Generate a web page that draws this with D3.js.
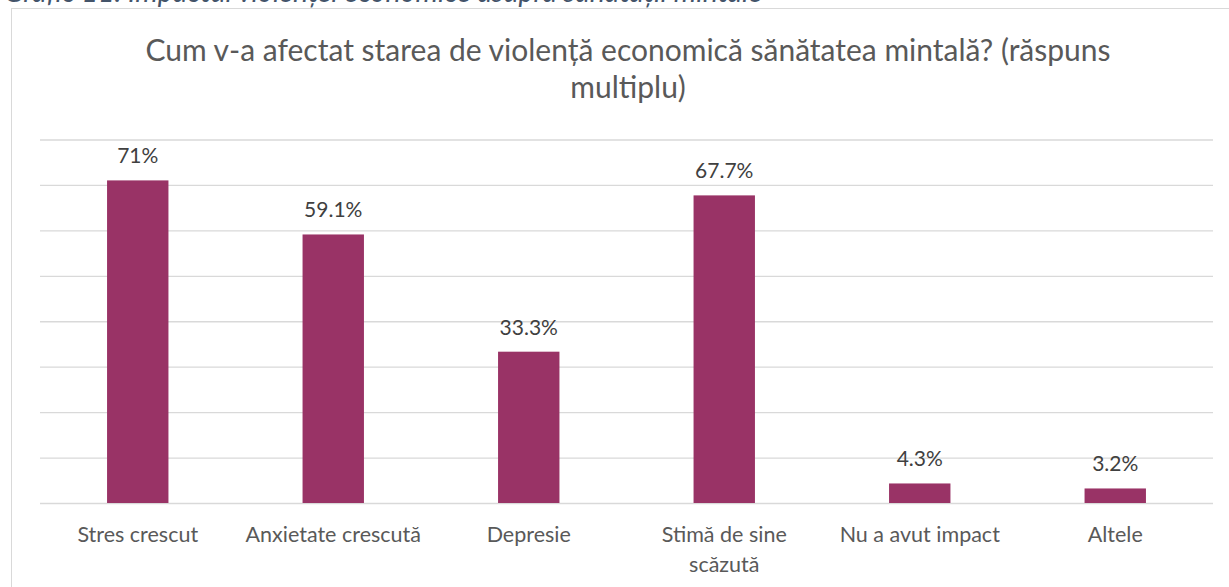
<!DOCTYPE html>
<html>
<head>
<meta charset="utf-8">
<script src="https://cdn.jsdelivr.net/npm/d3@7"></script>
<style>
  html, body { margin: 0; padding: 0; background: #ffffff; }
  svg { display: block; }
</style>
</head>
<body>
<svg id="chart" width="1229" height="587"></svg>
<script>
// ---- data ----
const categories = ["Stres crescut", "Anxietate crescută", "Depresie", "Stimă de sine scăzută", "Nu a avut impact", "Altele"];
const values = [71, 59.1, 33.3, 67.7, 4.3, 3.2];
const valueLabels = ["71%", "59.1%", "33.3%", "67.7%", "4.3%", "3.2%"];
const yTicks = [0, 10, 20, 30, 40, 50, 60, 70, 80];
const titleLines = ["Cum v-a afectat starea de violență economică sănătatea mintală? (răspuns", "multiplu)"];
const captionText = "Grafic 11. Impactul violenței economice asupra sănătății mintale";

const FONT = "Lato, 'Noto Sans', sans-serif";
const svg = d3.select("#chart");

// cropped caption above the chart frame (only its lower edge is visible, as in the source)
svg.append("text")
  .attr("x", 4).attr("y", 1.5)
  .attr("font-family", FONT).attr("font-style", "italic")
  .attr("font-size", 28.5).attr("fill", "#44546A")
  .text(captionText);

// chart frame
svg.append("rect")
  .attr("x", 11.5).attr("y", 8.5)
  .attr("width", 1240).attr("height", 600)
  .attr("fill", "#ffffff").attr("stroke", "#D9D9D9").attr("stroke-width", 1);

// title
const title = svg.append("text")
  .attr("text-anchor", "middle")
  .attr("font-family", FONT).attr("font-size", 30).attr("fill", "#595959");
titleLines.forEach((t, i) => {
  title.append("tspan").attr("x", 628).attr("y", 61 + i * 37).text(t);
});

// scales
const x = d3.scaleBand().domain(categories).range([40, 1213]).paddingInner(0.686).paddingOuter(0.343);
const y = d3.scaleLinear().domain([0, 80]).range([503, 139.5]);

// gridlines
const grid = svg.append("g")
  .attr("transform", "translate(40,0)")
  .call(d3.axisLeft(y).tickValues(yTicks).tickSize(-(1213 - 40)).tickFormat(""));
grid.select(".domain").remove();
grid.selectAll(".tick line").attr("stroke", "#D9D9D9").attr("stroke-width", 1.3);

// bars
svg.append("g").selectAll("rect")
  .data(values)
  .join("rect")
  .attr("x", (d, i) => x(categories[i]))
  .attr("y", d => y(d))
  .attr("width", x.bandwidth())
  .attr("height", d => y(0) - y(d))
  .attr("fill", "#993366");

// value labels
svg.append("g").selectAll("text")
  .data(values)
  .join("text")
  .attr("x", (d, i) => x(categories[i]) + x.bandwidth() / 2)
  .attr("y", d => y(d) - 17)
  .attr("text-anchor", "middle")
  .attr("font-family", FONT).attr("font-size", 21).attr("fill", "#404040")
  .text((d, i) => valueLabels[i]);

// x axis labels (wrapped)
const xAxis = svg.append("g")
  .attr("transform", `translate(0,${y(0)})`)
  .call(d3.axisBottom(x).tickSize(0).tickPadding(0));
xAxis.select(".domain").remove();
xAxis.selectAll(".tick text")
  .attr("font-family", FONT).attr("font-size", 21.5).attr("fill", "#595959")
  .attr("dy", null).attr("y", 0)
  .each(function(d) {
    const el = d3.select(this);
    const words = d.split(" ");
    el.text(null);
    const maxW = x.step() * 0.97;
    let lines = [], cur = [];
    words.forEach(w => {
      const test = cur.concat([w]).join(" ");
      el.text(test);
      if (this.getComputedTextLength() > maxW && cur.length) { lines.push(cur.join(" ")); cur = [w]; }
      else cur.push(w);
    });
    lines.push(cur.join(" "));
    el.text(null);
    lines.forEach((ln, i) => {
      el.append("tspan").attr("x", 0).attr("y", 39 + i * 30).text(ln);
    });
  });
</script>
</body>
</html>
